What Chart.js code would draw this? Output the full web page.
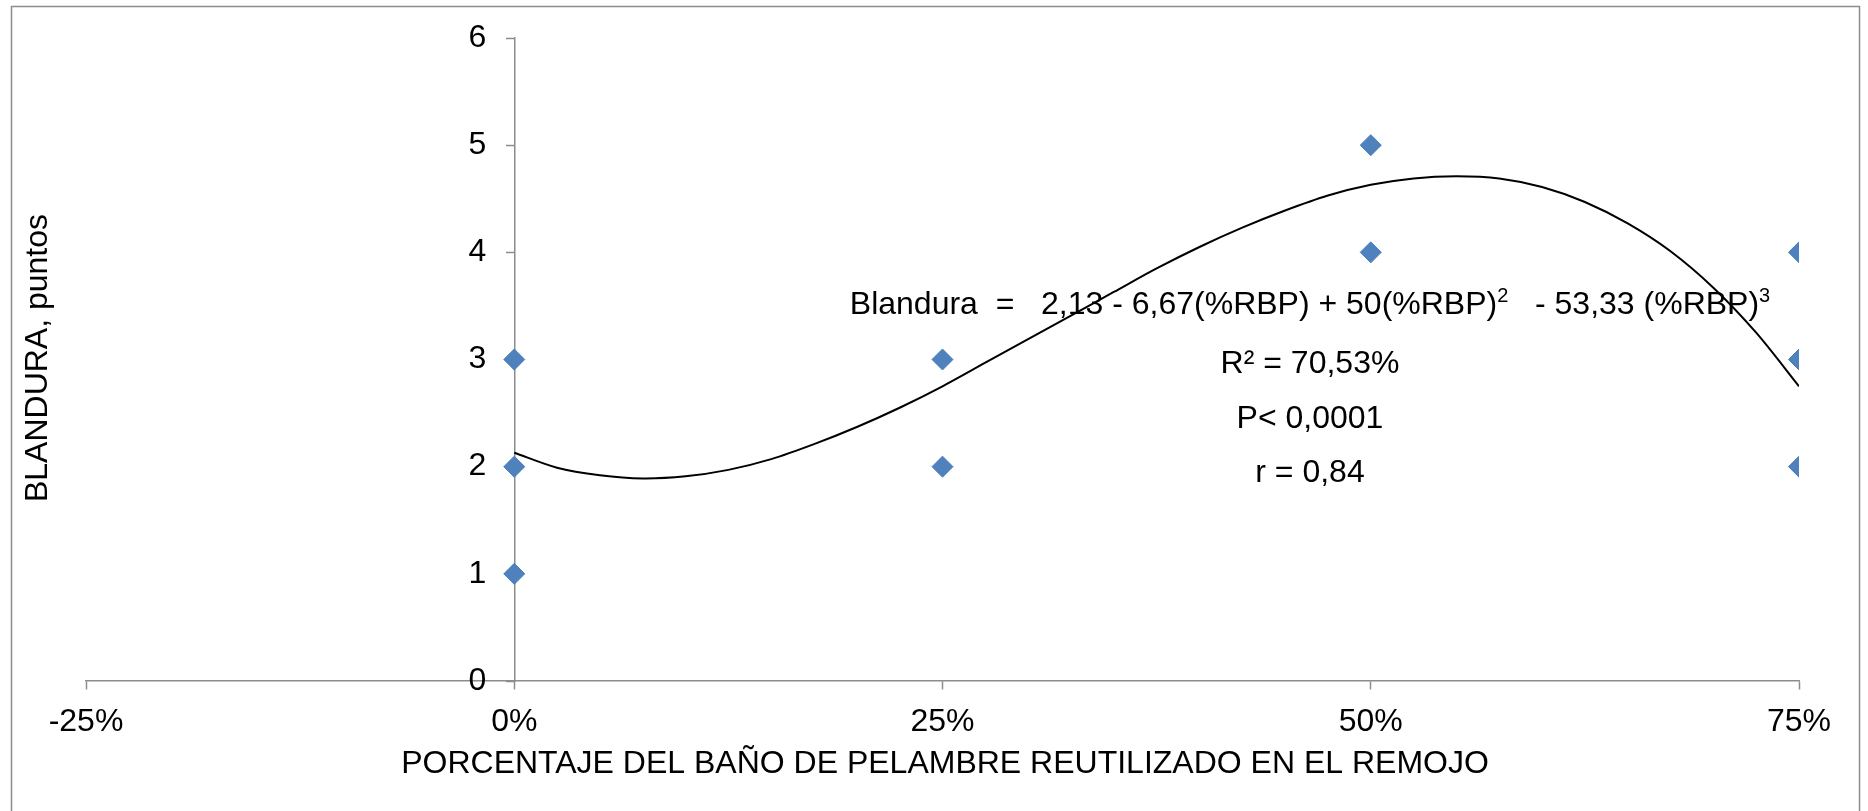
<!DOCTYPE html>
<html>
<head>
<meta charset="utf-8">
<script src="https://cdn.jsdelivr.net/npm/chart.js@4/dist/chart.umd.min.js"></script>
<style>
  html, body { margin: 0; padding: 0; background: #fff; }
  #wrap { width: 1868px; height: 811px; position: relative; }
</style>
</head>
<body>
<div id="wrap"><canvas id="blandura"></canvas></div>
<script>
// observaciones (% del baño reutilizado, puntos de blandura)
const porcentajes = [0, 0, 0, 25, 25, 50, 50, 75, 75, 75];
const blandura = [3, 2, 1, 3, 2, 5, 4, 4, 3, 2];

// linea de tendencia
const tendenciaX = [0, 2.5, 5, 7.5, 10, 12.5, 15, 17.5, 20, 22.5, 25, 27.5, 30, 32.5, 35, 37.5,
  40, 42.5, 45, 47.5, 50, 52.5, 55, 57.5, 60, 62.5, 65, 67.5, 70, 72.5, 75];
const tendenciaY = [2.13, 1.99, 1.92, 1.89, 1.91, 1.97, 2.07, 2.21, 2.37, 2.55, 2.75, 2.97, 3.19, 3.41, 3.63, 3.85,
  4.05, 4.23, 4.39, 4.53, 4.63, 4.69, 4.71, 4.69, 4.61, 4.47, 4.27, 4.01, 3.67, 3.25, 2.75];

const ecuacion = [
  ["Blandura  =   2,13 - 6,67(%RBP) + 50(%RBP)", false],
  ["2", true],
  ["   - 53,33 (%RBP)", false],
  ["3", true],
];
const estadisticos = ["R² = 70,53%", "P< 0,0001", "r = 0,84"];

const FONT = "'Liberation Sans', Arial, sans-serif";
const TAM = 32;
const GRIS = "#8c8c8c";

const extras = {
  id: "extras",
  beforeDraw(chart) {
    const ctx = chart.ctx;
    ctx.save();
    ctx.strokeStyle = GRIS;
    ctx.lineWidth = 1.5;
    ctx.strokeRect(11.5, 6.5, 1848, 900);
    ctx.restore();
  },
  afterDraw(chart) {
    const ctx = chart.ctx;
    const xs = chart.scales.x;
    const ys = chart.scales.y;
    ctx.save();
    ctx.fillStyle = "#000";
    ctx.textBaseline = "middle";
    ctx.font = TAM + "px " + FONT;

    // etiquetas eje y, a la izquierda del eje en x = 0
    ctx.textAlign = "right";
    const x0 = xs.getPixelForValue(0);
    ys.ticks.forEach((t) => ctx.fillText(String(t.value), x0 - 28, ys.getPixelForValue(t.value)));

    // titulo eje x
    ctx.textAlign = "center";
    ctx.fillText("PORCENTAJE DEL BAÑO DE PELAMBRE REUTILIZADO EN EL REMOJO", 945, 764);

    // titulo eje y
    ctx.save();
    ctx.translate(38, 358);
    ctx.rotate(-Math.PI / 2);
    ctx.fillText("BLANDURA, puntos", 0, 0);
    ctx.restore();

    // ecuacion con superindices
    ctx.textAlign = "left";
    let total = 0;
    for (const [t, sup] of ecuacion) {
      ctx.font = (sup ? "20px " : TAM + "px ") + FONT;
      total += ctx.measureText(t).width;
    }
    let x = 1310 - total / 2;
    for (const [t, sup] of ecuacion) {
      ctx.font = (sup ? "20px " : TAM + "px ") + FONT;
      ctx.fillText(t, x, sup ? 296 : 305);
      x += ctx.measureText(t).width;
    }

    ctx.font = TAM + "px " + FONT;
    ctx.textAlign = "center";
    const filas = [364, 419, 473];
    estadisticos.forEach((t, i) => ctx.fillText(t, 1310, filas[i]));
    ctx.restore();
  },
};

const ctx = document.getElementById("blandura").getContext("2d");
new Chart(ctx, {
  type: "scatter",
  data: {
    datasets: [
      {
        label: "Tendencia",
        type: "line",
        data: tendenciaX.map((x, i) => ({ x: x, y: tendenciaY[i] })),
        borderColor: "#000",
        borderWidth: 2,
        pointRadius: 0,
        tension: 0.3,
        fill: false,
      },
      {
        label: "Blandura",
        data: porcentajes.map((x, i) => ({ x: x, y: blandura[i] })),
        pointStyle: "rectRot",
        pointRadius: 10.5,
        backgroundColor: "#4f81bd",
        borderColor: "#4a7ebb",
        borderWidth: 1,
      },
    ],
  },
  options: {
    responsive: true,
    maintainAspectRatio: false,
    animation: false,
    layout: { padding: { left: 86, right: 69, top: 38, bottom: 130 } },
    plugins: {
      legend: { display: false },
      tooltip: { enabled: false },
    },
    scales: {
      x: {
        type: "linear",
        position: { y: 0 },
        min: -25,
        max: 75,
        ticks: {
          stepSize: 25,
          padding: 14,
          color: "#000",
          font: { family: FONT, size: TAM },
          callback: (v) => v + "%",
        },
        grid: { drawOnChartArea: false, drawTicks: true, tickLength: 8, tickColor: GRIS, tickWidth: 1.5 },
        border: { color: GRIS, width: 1.5 },
      },
      y: {
        type: "linear",
        position: { x: 0 },
        min: 0,
        max: 6,
        ticks: { stepSize: 1, display: false },
        grid: { drawOnChartArea: false, drawTicks: true, tickLength: 8, tickColor: GRIS, tickWidth: 1.5 },
        border: { color: GRIS, width: 1.5 },
      },
    },
  },
  plugins: [extras],
});
</script>
</body>
</html>
